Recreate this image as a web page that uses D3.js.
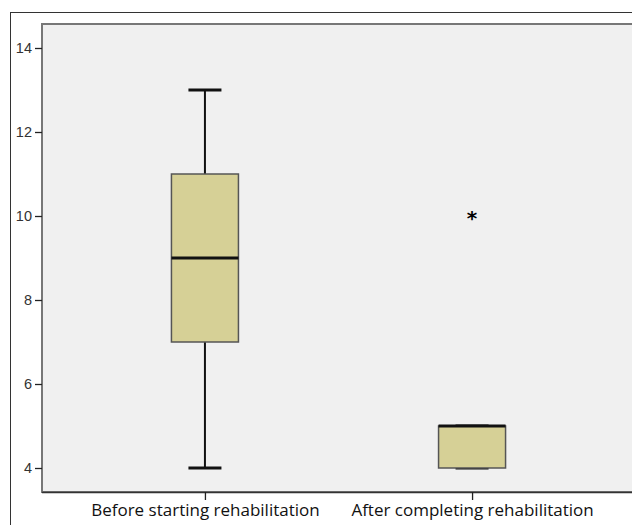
<!DOCTYPE html>
<html>
<head>
<meta charset="utf-8">
<script src="https://cdn.jsdelivr.net/npm/d3@7"></script>
<style>
  body { margin: 0; background: #fff; }
</style>
</head>
<body>
<div id="chart"></div>
<script>
// box plot data
const groups = ["Before starting rehabilitation", "After completing rehabilitation"];
const whiskerLow = [4, 4];
const q1 = [7, 4];
const medians = [9, 5];
const q3 = [11, 5];
const whiskerHigh = [13, 5];
const outliers = [[], [10]];
const yTicks = [4, 6, 8, 10, 12, 14];

const width = 632,
      height = 525,
      margin = ({ top: 24, right: -3, bottom: 33, left: 42 });

let svg = d3.select("#chart")
    .append("svg")
    .attr("width", width)
    .attr("height", height);

// outer frame
svg.append("rect")
    .attr("x", 10.5)
    .attr("y", 12.5)
    .attr("width", 700)
    .attr("height", 600)
    .attr("fill", "#fff")
    .attr("stroke", "#333")
    .attr("stroke-width", 1);

let x = d3.scalePoint()
    .domain(groups)
    .range([margin.left, width - margin.right])
    .padding(0.61);

let y = d3.scaleLinear()
    .domain([4 - 24 / 42, 14 + 24 / 42])
    .range([height - margin.bottom, margin.top]);

// plot area
svg.append("rect")
    .attr("x", margin.left)
    .attr("y", margin.top)
    .attr("width", width - margin.left + 10)
    .attr("height", height - margin.bottom - margin.top)
    .attr("fill", "#f0f0f0")
    .attr("stroke", "#777")
    .attr("stroke-width", 2);

// axes
svg.append("g")
    .attr("transform", `translate(${margin.left},0)`)
    .call(d3.axisLeft(y).tickValues(yTicks).tickSize(7).tickPadding(3))
    .call(g => g.select(".domain").remove())
    .call(g => g.selectAll("line").attr("stroke", "#222").attr("stroke-width", 1.3))
    .call(g => g.selectAll("text")
        .attr("fill", "#333")
        .style("font-family", "Liberation Sans, Arial, sans-serif")
        .style("font-size", "14.5px"));

svg.append("line")
    .attr("x1", margin.left)
    .attr("x2", width)
    .attr("y1", height - margin.bottom + 0.5)
    .attr("y2", height - margin.bottom + 0.5)
    .attr("stroke", "#333")
    .attr("stroke-width", 1.5);

svg.append("g")
    .attr("transform", `translate(0,${height - margin.bottom})`)
    .call(d3.axisBottom(x).tickSize(8).tickPadding(4))
    .call(g => g.select(".domain").remove())
    .call(g => g.selectAll("line").attr("stroke", "#222").attr("stroke-width", 1.3))
    .call(g => g.selectAll("text")
        .attr("fill", "#111")
        .style("font-family", "Open Sans, sans-serif")
        .style("font-size", "17px"));

const boxW = 67, capW = 33;

let box = svg.selectAll(".box")
    .data(groups)
    .join("g")
    .attr("class", "box");

// whiskers
box.append("line")
    .attr("x1", d => x(d)).attr("x2", d => x(d))
    .attr("y1", (d, i) => y(whiskerLow[i]))
    .attr("y2", (d, i) => y(whiskerHigh[i]))
    .attr("stroke", "#111")
    .attr("stroke-width", 2);

box.append("line")
    .attr("x1", d => x(d) - capW / 2).attr("x2", d => x(d) + capW / 2)
    .attr("y1", (d, i) => y(whiskerLow[i]))
    .attr("y2", (d, i) => y(whiskerLow[i]))
    .attr("stroke", "#111")
    .attr("stroke-width", 3);

box.append("line")
    .attr("x1", d => x(d) - capW / 2).attr("x2", d => x(d) + capW / 2)
    .attr("y1", (d, i) => y(whiskerHigh[i]))
    .attr("y2", (d, i) => y(whiskerHigh[i]))
    .attr("stroke", "#111")
    .attr("stroke-width", 3);

// boxes
box.append("rect")
    .attr("x", d => x(d) - boxW / 2)
    .attr("width", boxW)
    .attr("y", (d, i) => y(q3[i]))
    .attr("height", (d, i) => y(q1[i]) - y(q3[i]))
    .attr("fill", "#d6d096")
    .attr("stroke", "#555")
    .attr("stroke-width", 1.5);

// medians
box.append("line")
    .attr("x1", d => x(d) - boxW / 2).attr("x2", d => x(d) + boxW / 2)
    .attr("y1", (d, i) => y(medians[i]))
    .attr("y2", (d, i) => y(medians[i]))
    .attr("stroke", "#111")
    .attr("stroke-width", 3);

// outliers (extreme values)
box.each(function (d, i) {
    d3.select(this).selectAll(".out")
        .data(outliers[i])
        .join("text")
        .attr("class", "out")
        .attr("x", x(d))
        .attr("y", v => y(v) + 9)
        .attr("text-anchor", "middle")
        .style("font-family", "DejaVu Sans, sans-serif")
        .style("font-size", "20px")
        .style("font-weight", "bold")
        .text("*");
});
</script>
</body>
</html>
